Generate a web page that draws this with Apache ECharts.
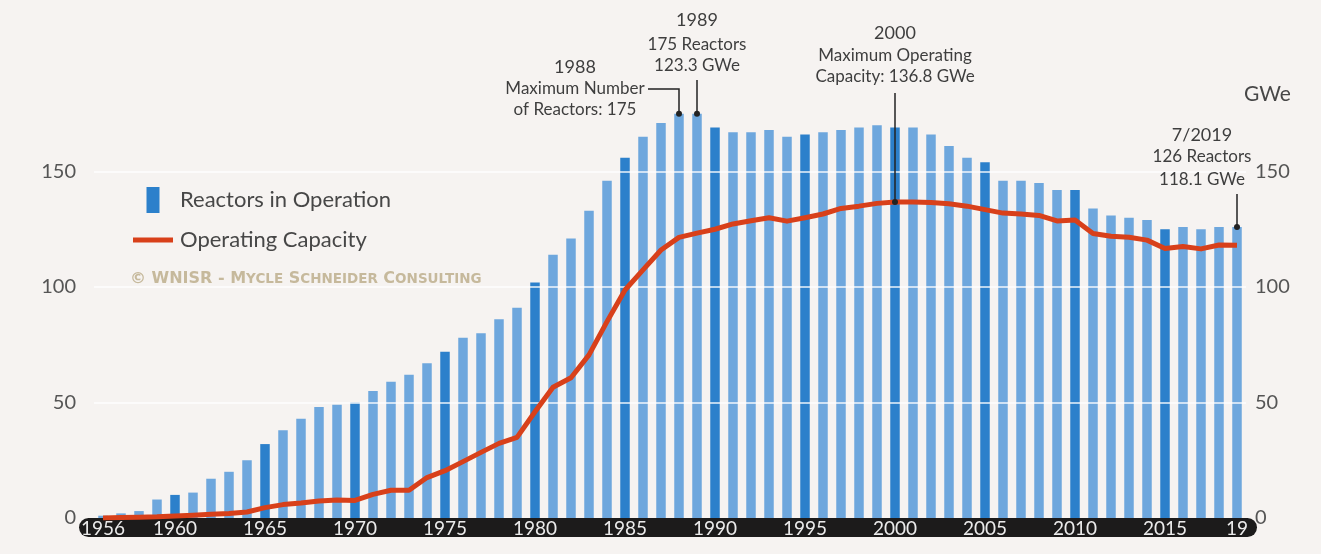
<!DOCTYPE html>
<html>
<head>
<meta charset="utf-8">
<script src="https://cdn.jsdelivr.net/npm/echarts@6/dist/echarts.min.js"></script>
<style>
  html, body { margin: 0; padding: 0; background: #f6f3f1; }
  #chart { width: 1321px; height: 554px; }
</style>
</head>
<body>
<div id="chart"></div>
<script>
// years on the x axis
const years = ['1956','1957','1958','1959','1960','1961','1962','1963','1964','1965',
  '1966','1967','1968','1969','1970','1971','1972','1973','1974','1975',
  '1976','1977','1978','1979','1980','1981','1982','1983','1984','1985',
  '1986','1987','1988','1989','1990','1991','1992','1993','1994','1995',
  '1996','1997','1998','1999','2000','2001','2002','2003','2004','2005',
  '2006','2007','2008','2009','2010','2011','2012','2013','2014','2015',
  '2016','2017','2018','2019'];
// reactors in operation (bars)
const reactors = [1, 2, 3, 8, 10, 11, 17, 20, 25, 32,
  38, 43, 48, 49, 50, 55, 59, 62, 67, 72,
  78, 80, 86, 91, 102, 114, 121, 133, 146, 156,
  165, 171, 175, 175, 169, 167, 167, 168, 165, 166,
  167, 168, 169, 170, 169, 169, 166, 161, 156, 154,
  146, 146, 145, 142, 142, 134, 131, 130, 129, 125,
  126, 125, 126, 126];
// operating capacity in GWe (line)
const capacity = [0.05, 0.2, 0.3, 0.5, 0.9, 1.2, 1.6, 1.9, 2.6, 4.5,
  5.8, 6.5, 7.4, 7.8, 7.6, 10.2, 12.0, 12.0, 17.5, 20.5,
  24.4, 28.4, 32.3, 34.9, 46.0, 56.6, 60.7, 70.6, 85.0, 98.7,
  107.4, 116.0, 121.5, 123.3, 125.0, 127.3, 128.7, 130.0, 128.5, 130.0,
  131.6, 134.0, 135.0, 136.2, 136.8, 136.8, 136.6, 136.0, 135.0, 133.5,
  132.0, 131.6, 131.0, 128.6, 129.0, 123.2, 122.0, 121.5, 120.3, 116.7,
  117.5, 116.5, 118.2, 118.1];
const gridTicks = [50, 100, 150];

// annotations
const noteYears = ['1988', '1989', '2000', '2019'];
const noteTitles = ['1988', '1989', '2000', '7/2019'];
const noteLines = [
  ['Maximum Number', 'of Reactors: 175'],
  ['175 Reactors', '123.3 GWe'],
  ['Maximum Operating', 'Capacity: 136.8 GWe'],
  ['126 Reactors', '118.1 GWe']
];

const light = '#6ea7dd';
const dark = '#2c80cb';
const red = '#d8401a';
const font = 'Lato, "Open Sans", sans-serif';

let chart = echarts.init(document.getElementById('chart'));

const option = {
  animation: false,
  backgroundColor: '#f6f3f1',
  grid: { left: 94, right: 75, top: 56, bottom: 36 },
  legend: {
    orient: 'vertical',
    left: 128,
    top: 182,
    itemWidth: 40,
    itemHeight: 26,
    itemGap: 16,
    selectedMode: false,
    textStyle: { fontFamily: font, fontSize: 22, color: '#474747', padding: [0, 0, 0, 2] },
    data: [
      { name: 'Reactors in Operation', icon: 'path://M0,0L13,0L13,26L0,26Z', itemStyle: { color: dark, borderWidth: 0 } },
      { name: 'Operating Capacity', icon: 'path://M0,0L40,0L40,5L0,5Z', itemStyle: { color: red, borderWidth: 0 } }
    ]
  },
  xAxis: {
    type: 'category',
    data: years,
    z: 3,
    axisLine: { show: false },
    axisTick: { show: false },
    axisLabel: {
      interval: function (idx, val) {
        return idx === 0 || idx === years.length - 1 || (+val % 5 === 0);
      },
      formatter: function (v) { return v === '2019' ? '19' : v; },
      color: '#ebebeb',
      fontFamily: font,
      fontSize: 19,
      margin: 11,
      verticalAlign: 'middle'
    }
  },
  yAxis: [
    {
      type: 'value', min: 0, max: 200, interval: 50,
      axisLine: { show: false }, axisTick: { show: false }, splitLine: { show: false },
      axisLabel: { color: '#555', fontFamily: font, fontSize: 20, margin: 18, showMaxLabel: false }
    },
    {
      type: 'value', min: 0, max: 200, interval: 50, position: 'right',
      axisLine: { show: false }, axisTick: { show: false }, splitLine: { show: false },
      axisLabel: { color: '#555', fontFamily: font, fontSize: 20, margin: 9, showMaxLabel: false }
    }
  ],
  series: [
    {
      name: 'Reactors in Operation',
      type: 'bar',
      data: reactors,
      barWidth: 9.5,
      itemStyle: {
        color: function (p) { return +years[p.dataIndex] % 5 === 0 ? dark : light; }
      },
      markLine: {
        silent: true,
        symbol: 'none',
        label: { show: false },
        lineStyle: { color: '#ffffff', width: 1.5, type: 'solid', opacity: 0.9 },
        data: gridTicks.map(function (v) { return { yAxis: v }; })
      }
    },
    {
      name: 'Operating Capacity',
      type: 'line',
      yAxisIndex: 1,
      data: capacity,
      symbol: 'none',
      color: red,
      z: 10,
      lineStyle: { color: red, width: 5, join: 'round' }
    }
  ]
};
chart.setOption(option);

// texts and leader lines for the annotations, placed from the data
function textEl(x, y, text, size) {
  return {
    type: 'text', x: x, y: y, z: 100,
    style: { text: text, fontFamily: font, fontSize: size, fill: '#3e3e3e', align: 'center', verticalAlign: 'middle' }
  };
}
function leader(points) {
  return { type: 'polyline', z: 100, shape: { points: points }, style: { stroke: '#222', lineWidth: 1.5, fill: null } };
}
function dot(x, y) {
  return { type: 'circle', z: 101, shape: { cx: x, cy: y, r: 3 }, style: { fill: '#222' } };
}

let els = [];

// dark rounded band under the year labels
const first = chart.convertToPixel({ xAxisIndex: 0, yAxisIndex: 0 }, [years[0], 0]);
const last = chart.convertToPixel({ xAxisIndex: 0, yAxisIndex: 0 }, [years[years.length - 1], 0]);
els.push({
  type: 'rect', z: 1,
  shape: { x: first[0] - 24, y: first[1], width: last[0] - first[0] + 44, height: 19, r: 9.5 },
  style: { fill: '#1c1b1b' }
});

// layout per note: text centre offset, text rows y, leader start
const noteLayout = [
  { dx: -104, rows: [67, 89, 110], from: 89, elbow: true, onLine: false },
  { dx: 0, rows: [20, 45, 66], from: 80, elbow: false, onLine: false },
  { dx: 0, rows: [33, 56, 77], from: 93, elbow: false, onLine: true },
  { dx: -35, rows: [135, 157, 180], from: 194, elbow: false, onLine: false }
];
noteYears.forEach(function (yr, i) {
  const k = years.indexOf(yr);
  const L = noteLayout[i];
  const v = L.onLine ? capacity[k] : reactors[k];
  const p = chart.convertToPixel({ xAxisIndex: 0, yAxisIndex: 0 }, [yr, v]);
  const cx = p[0] + L.dx;
  els.push(textEl(cx, L.rows[0], noteTitles[i], 18));
  els.push(textEl(cx, L.rows[1], noteLines[i][0], 17));
  els.push(textEl(cx, L.rows[2], noteLines[i][1], 17));
  if (L.elbow) {
    els.push(leader([[p[0] - 31, L.from], [p[0], L.from], [p[0], p[1]]]));
  } else {
    els.push(leader([[p[0], L.from], [p[0], p[1]]]));
  }
  els.push(dot(p[0], p[1]));
});

els.push({
  type: 'text', left: 1244, top: 84, z: 100,
  style: { text: 'GWe', fontFamily: font, fontSize: 21, fill: '#474747' }
});
els.push({
  type: 'text', left: 130, top: 271, z: 100,
  style: {
    text: '{b|© WNISR - M}{s|YCLE}{b| S}{s|CHNEIDER}{b| C}{s|ONSULTING}',
    rich: {
      b: { fontFamily: '"DejaVu Sans", sans-serif', fontWeight: 'bold', fontSize: 16, fill: '#c6b99c', color: '#c6b99c' },
      s: { fontFamily: '"DejaVu Sans", sans-serif', fontWeight: 'bold', fontSize: 13.5, fill: '#c6b99c', color: '#c6b99c' }
    }
  }
});
chart.setOption({ graphic: els });

window.addEventListener('resize', function () {
  chart.resize();
});
</script>
</body>
</html>
